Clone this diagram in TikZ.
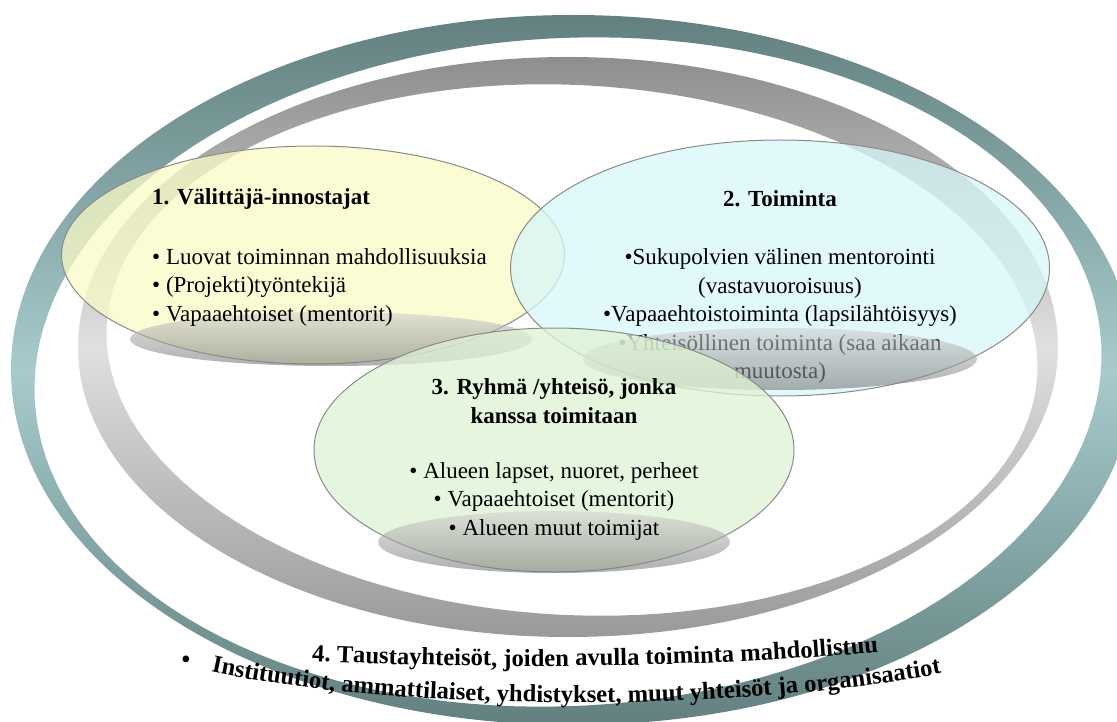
\documentclass[tikz,border=0pt]{standalone}
\usepackage{fontspec}
\setmainfont{Liberation Serif}
\usetikzlibrary{shapes.geometric,decorations.text}

\definecolor{tealdark}{HTML}{62807F}
\definecolor{teallight}{HTML}{A7CBCD}
\definecolor{greydark}{HTML}{8E8E8E}
\definecolor{greylight}{HTML}{E0E0E0}
\definecolor{yellowfill}{HTML}{FAFAC6}
\definecolor{cyanfill}{HTML}{D8F7FA}
\definecolor{greenfill}{HTML}{DEF3D3}
\definecolor{rimgrey}{HTML}{8A8A8A}

\newcommand{\bodyfont}{\fontsize{23}{28.5}\selectfont}
\newcommand{\arcfont}{\fontsize{24.6}{28}\selectfont\bfseries}

\begin{document}
\begin{tikzpicture}[x=1pt, y=-1pt,
  tealring/.style={even odd rule, top color=tealdark, bottom color=tealdark, middle color=teallight},
  greyring/.style={even odd rule, top color=greydark, bottom color=greydark!90, middle color=greylight},
  bubble/.style={ellipse, draw=rimgrey, line width=1pt, fill opacity=0.75, inner sep=0pt, outer sep=0pt},
  blob/.style={ellipse, inner sep=0pt, top color=gray!35, bottom color=gray!95!black, fill opacity=0.6},
  headtxt/.style={font=\bodyfont\bfseries, inner sep=0pt},
  listtxt/.style={font=\bodyfont, inner sep=0pt}
]
\useasboundingbox (0,0) rectangle (1117,722);
\clip (0,0) rectangle (1117,722);

% the two rings
\shade[tealring] (573,370) ellipse [x radius=562pt, y radius=355pt]
  plot[domain=0:360, samples=145, variable=\t]
  ({568+534*cos(\t)*cos(-3)-334*sin(\t)*sin(-3)}, {372+534*cos(\t)*sin(-3)+334*sin(\t)*cos(-3)}) -- cycle;
\shade[greyring] (568,347) ellipse [x radius=490pt, y radius=290pt]
  plot[domain=0:360, samples=145, variable=\t]
  ({572+466*cos(\t)*cos(3)-265*sin(\t)*sin(3)}, {350+466*cos(\t)*sin(3)+265*sin(\t)*cos(3)}) -- cycle;

% 1
\node[bubble, fill=yellowfill, minimum width=503pt, minimum height=218pt] (e1) at (313,255) {};
\node[blob, minimum width=402pt, minimum height=54pt] (s1) at (331,339) {};
\node[headtxt, anchor=west] (h1) at (152,199) {1. Välittäjä-innostajat};
\node[listtxt, anchor=west, align=left] (l1) at (152,287)
  {• Luovat toiminnan mahdollisuuksia\\• (Projekti)työntekijä\\• Vapaaehtoiset (mentorit)};

% 2
\node[bubble, fill=cyanfill, minimum width=539pt, minimum height=256pt] (e2) at (780,268) {};
\node[headtxt] (h2) at (780,199) {2. Toiminta};
\node[listtxt, align=center] (l2) at (780,316)
  {•Sukupolvien välinen mentorointi\\(vastavuoroisuus)\\•Vapaaehtoistoiminta (lapsilähtöisyys)\\•Yhteisöllinen toiminta (saa aikaan\\muutosta)};
\node[blob, minimum width=394pt, minimum height=62pt] (s2) at (780,359) {};

% 3
\node[bubble, fill=greenfill, minimum width=480pt, minimum height=244pt] (e3) at (554,450) {};
\node[blob, minimum width=352pt, minimum height=62pt] (s3) at (554,542) {};
\node[headtxt, align=center] (h3) at (554,401) {3. Ryhmä /yhteisö, jonka\\kanssa toimitaan};
\node[listtxt, align=center] (l3) at (554,501)
  {• Alueen lapset, nuoret, perheet\\• Vapaaehtoiset (mentorit)\\• Alueen muut toimijat};

% 4
\coordinate (a1) at (290,660);
\coordinate (b1) at (900,650);
\coordinate (a2) at (190,667);
\coordinate (b2) at (962,669);
\path[decorate, decoration={text along path, text align=center,
  text={|\arcfont|4. Taustayhteisöt, joiden avulla toiminta mahdollistuu}}]
  (a1) .. controls (450,669) and (700,670) .. (b1);
\path[decorate, decoration={text along path, text align=center,
  text={|\arcfont|Instituutiot, ammattilaiset, yhdistykset, muut yhteisöt ja organisaatiot}}]
  (a2) .. controls (380,714) and (760,714) .. (b2);
\node[font=\arcfont, inner sep=0pt] (dot) at (186,662) {•};
\end{tikzpicture}
\end{document}
